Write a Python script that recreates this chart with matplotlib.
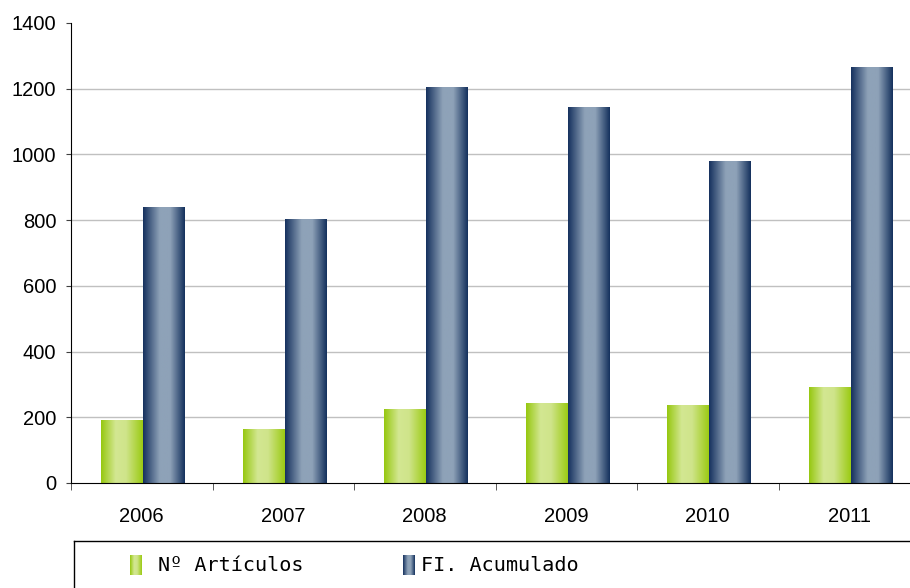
import matplotlib
matplotlib.use('Agg')
import matplotlib.pyplot as plt
import numpy as np

# data
years = ['2006', '2007', '2008', '2009', '2010', '2011']
articulos = [189, 164, 225, 243, 237, 292]
fi_acumulado = [840, 803, 1205, 1144, 980, 1266]
labels = ['Nº Artículos', 'FI. Acumulado']

W, H = 910, 588
fig = plt.figure(figsize=(W / 100, H / 100), dpi=100)
plt.rcParams['font.family'] = ['Liberation Sans', 'DejaVu Sans']

# axes run a little past the right edge, like the original
cat_w = 141.5
ax = fig.add_axes([71 / W, (H - 483) / H, 6 * cat_w / W, 460 / H])


def gradient(stops, cols):
    xs = np.linspace(0, 1, 64)
    cols = np.array([matplotlib.colors.to_rgb(c) for c in cols])
    return np.stack([np.interp(xs, stops, cols[:, k]) for k in range(3)], axis=-1)[None, :, :]


green_grad = gradient([0, 0.35, 0.6, 1], ['#97c811', '#d3e792', '#cfe48a', '#9ccb15'])
blue_grad = gradient([0, 0.4, 0.65, 1], ['#17325f', '#8ea2b8', '#8ea2b8', '#16325e'])

x = np.arange(len(years))
width = 0.295
bars1 = ax.bar(x - width / 2 + 0.01, articulos, width, color='none', zorder=2)
bars2 = ax.bar(x + width / 2 + 0.01, fi_acumulado, width, color='none', zorder=2)

# fill each bar with a horizontal gradient
for bars, grad in [(bars1, green_grad), (bars2, blue_grad)]:
    for bar in bars:
        bx, bw, bh = bar.get_x(), bar.get_width(), bar.get_height()
        ax.imshow(grad, extent=[bx, bx + bw, 0, bh], aspect='auto', zorder=2, interpolation='bilinear')

ax.set_xlim(-0.5, len(years) - 0.5)
ax.set_ylim(0, 1400)
ax.set_yticks(np.arange(0, 1401, 200))
ax.set_xticks(x)
ax.set_xticklabels(years)
ax.set_xticks(np.arange(len(years)) - 0.5, minor=True)

ax.grid(axis='y', color='#c0c0c0', linewidth=1, zorder=0)
ax.set_axisbelow(True)
ax.yaxis.get_gridlines()[-1].set_visible(False)
ax.yaxis.get_gridlines()[0].set_visible(False)

for side in ['top', 'right']:
    ax.spines[side].set_visible(False)

ax.tick_params(axis='y', length=3.6, pad=7, labelsize=14.5, color='#404040')
ax.tick_params(axis='x', which='major', length=0, pad=17, labelsize=14.5)
ax.tick_params(axis='x', which='minor', length=5, color='#404040')

# legend box at the bottom, drawn by hand
lax = fig.add_axes([74 / W, -0.05, 1, (H - 541) / H + 0.05])
lax.set_xticks([])
lax.set_yticks([])
for s in lax.spines.values():
    s.set_color('black')
    s.set_linewidth(1)

lax.imshow(green_grad, extent=[130, 142, 575, 555], aspect='auto', interpolation='bilinear')
lax.imshow(blue_grad, extent=[403, 415, 575, 555], aspect='auto', interpolation='bilinear')
lax.set_xlim(74, 74 + W)
lax.set_ylim(H + 0.05 * H, 541)
mono = ['DejaVu Sans Mono', 'Liberation Mono']
lax.text(158, 566, labels[0], fontsize=14.5, family=mono, va='center')
lax.text(421, 566, labels[1], fontsize=14.5, family=mono, va='center')

plt.savefig('out.png', dpi=100)
